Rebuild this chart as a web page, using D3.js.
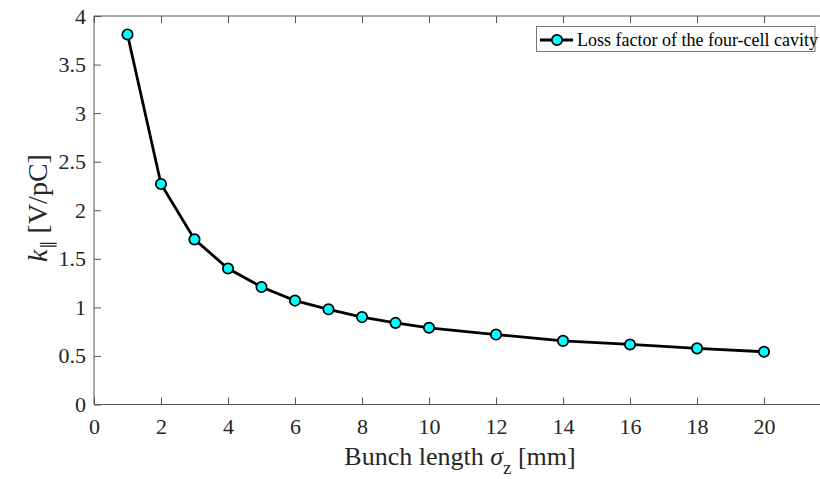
<!DOCTYPE html>
<html>
<head>
<meta charset="utf-8">
<script src="https://cdn.jsdelivr.net/npm/d3@7"></script>
<style>
  body { margin: 0; background: #fff; }
  svg { display: block; font-family: "Liberation Serif", "Times New Roman", serif; }
</style>
</head>
<body>
<svg id="chart" width="820" height="479"></svg>
<script>
// bunch length (mm) vs loss factor (V/pC)
var bunchLen = [1, 2, 3, 4, 5, 6, 7, 8, 9, 10, 12, 14, 16, 18, 20];
var lossFactor = [3.81, 2.27, 1.70, 1.40, 1.21, 1.07, 0.98, 0.90, 0.84, 0.79, 0.72, 0.655, 0.618, 0.578, 0.543];
var xTicks = [0, 2, 4, 6, 8, 10, 12, 14, 16, 18, 20];
var yTicks = [0, 0.5, 1, 1.5, 2, 2.5, 3, 3.5, 4];
var legendLabel = 'Loss factor of the four-cell cavity';

var W = 820, H = 479;
var mg = { left: 94, top: 16, bottom: 404.5, right: 821 };
var serif = 'Liberation Serif, Times New Roman, serif';

var svg = d3.select('#chart');

var x = d3.scaleLinear().domain([0, 21.7]).range([mg.left, mg.right]);
var y = d3.scaleLinear().domain([0, 4]).range([mg.bottom, mg.top]);

var axColor = '#555';
var tickLen = 7;

function styleAxis(g){
    g.attr('font-family', serif).attr('font-size', 22);
    g.selectAll('.tick line').attr('stroke', axColor);
    g.selectAll('.tick text').attr('fill', '#262626');
}

// bottom axis (ticks pointing in)
var xAx = d3.axisBottom(x).tickValues(xTicks).tickSize(-tickLen).tickPadding(14).tickFormat(d3.format('d'));
svg.append('g')
    .attr('transform', `translate(0, ${mg.bottom})`)
    .call(xAx)
    .call(styleAxis)
    .call(g => g.select('.domain').attr('stroke', axColor).attr('d', `M${mg.left},0H${W}`));

// top mirror
var xTop = d3.axisTop(x).tickValues(xTicks).tickSize(-tickLen).tickFormat('');
svg.append('g')
    .attr('transform', `translate(0, ${mg.top})`)
    .call(xTop)
    .call(styleAxis)
    .call(g => g.select('.domain').attr('stroke', axColor).attr('d', `M${mg.left},0H${W}`));

// left axis
var yAx = d3.axisLeft(y).tickValues(yTicks).tickSize(-tickLen).tickPadding(8).tickFormat(d => d);
svg.append('g')
    .attr('transform', `translate(${mg.left}, 0)`)
    .call(yAx)
    .call(styleAxis)
    .call(g => g.select('.domain').attr('stroke', axColor).attr('d', `M0,${mg.bottom}V${mg.top}`));

// data line + markers
var pts = bunchLen.map((d, i) => [d, lossFactor[i]]);
svg.append('path')
    .datum(pts)
    .attr('fill', 'none')
    .attr('stroke', '#000')
    .attr('stroke-width', 2.8)
    .attr('d', d3.line().x(d => x(d[0])).y(d => y(d[1])));

svg.append('g').selectAll('circle')
    .data(pts)
    .join('circle')
    .attr('cx', d => x(d[0]))
    .attr('cy', d => y(d[1]))
    .attr('r', 5.2)
    .attr('fill', '#00ffff')
    .attr('stroke', '#000')
    .attr('stroke-width', 1.7);

// axis labels
var xl = svg.append('text')
    .attr('x', 460).attr('y', 465)
    .attr('text-anchor', 'middle')
    .attr('fill', '#262626')
    .attr('font-family', serif)
    .attr('font-size', 26);
xl.append('tspan').text('Bunch length ');
xl.append('tspan').attr('font-style', 'italic').text('σ');
xl.append('tspan').attr('dy', 9).attr('font-size', 19).text('z');
xl.append('tspan').attr('dy', -9).text(' [mm]');

var yl = svg.append('text')
    .attr('transform', 'translate(47, 208) rotate(-90)')
    .attr('text-anchor', 'middle')
    .attr('fill', '#262626')
    .attr('font-family', serif)
    .attr('font-size', 28);
yl.append('tspan').attr('font-style', 'italic').text('k');
yl.append('tspan').attr('dy', 6).attr('font-size', 17).text('∥');
yl.append('tspan').attr('dy', -6).text(' [V/pC]');

// legend
var lg = svg.append('g');
lg.append('rect')
    .attr('x', 536.5).attr('y', 26.5)
    .attr('width', 278.5).attr('height', 25)
    .attr('fill', '#fff')
    .attr('stroke', '#777')
    .attr('stroke-width', 1);
lg.append('line')
    .attr('x1', 540).attr('x2', 573)
    .attr('y1', 40).attr('y2', 40)
    .attr('stroke', '#000').attr('stroke-width', 2.8);
lg.append('circle')
    .attr('cx', 557).attr('cy', 40).attr('r', 5.2)
    .attr('fill', '#00ffff').attr('stroke', '#000').attr('stroke-width', 1.7);
lg.append('text')
    .attr('x', 577).attr('y', 46)
    .attr('fill', '#000')
    .attr('font-family', serif)
    .attr('font-size', 18)
    .text(legendLabel);
</script>
</body>
</html>
